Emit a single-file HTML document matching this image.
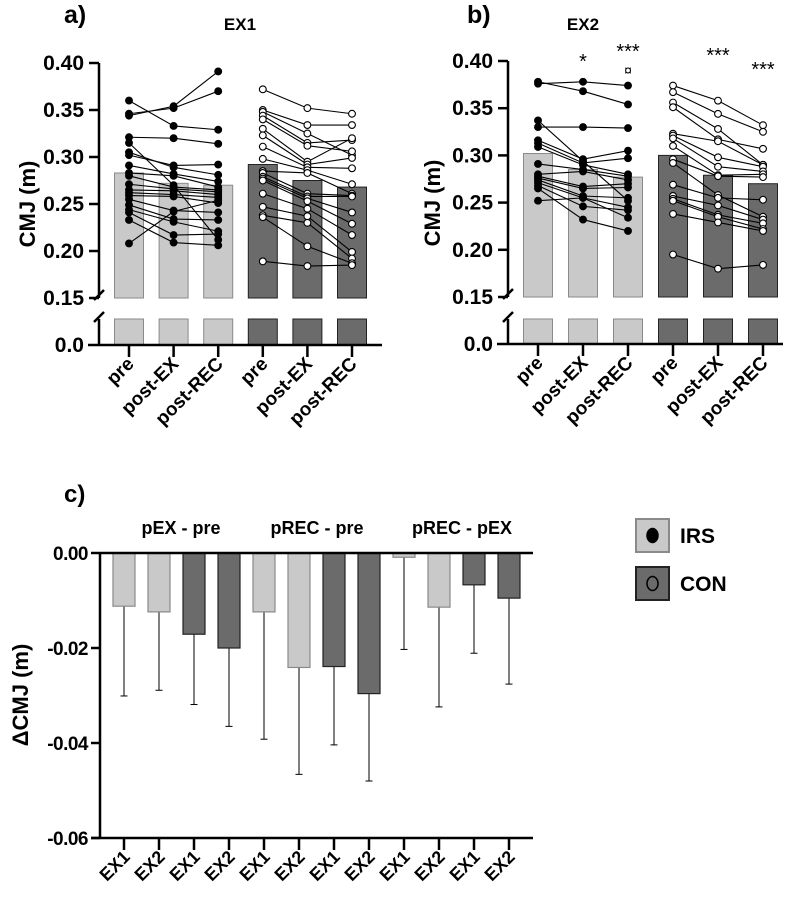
<!DOCTYPE html>
<html><head><meta charset="utf-8"><style>
body{margin:0;background:#fff;}
svg{display:block;font-family:"Liberation Sans",Arial,sans-serif;font-weight:bold;}
</style></head><body>
<svg id="fig" width="800" height="899" viewBox="0 0 800 899"></svg>
<script>
// ---------- data ----------
const timeCats = ["pre","post-EX","post-REC","pre","post-EX","post-REC"];
const meansA = [0.283,0.272,0.270,0.292,0.275,0.268];
const meansB = [0.302,0.285,0.277,0.300,0.279,0.270];
const irsEx1Pre  = [0.344,0.346,0.360,0.321,0.315,0.305,0.302,0.291,0.283,0.280,0.271,0.265,0.262,0.259,0.255,0.249,0.244,0.241,0.233,0.208];
const irsEx1PEx  = [0.354,0.352,0.333,0.320,0.270,0.289,0.291,0.282,0.280,0.268,0.266,0.264,0.260,0.258,0.243,0.234,0.231,0.217,0.209,0.242];
const irsEx1PRec = [0.391,0.370,0.329,0.314,0.212,0.281,0.292,0.274,0.268,0.265,0.263,0.260,0.257,0.251,0.241,0.233,0.221,0.218,0.206,0.254];
const conEx1Pre  = [0.372,0.350,0.348,0.344,0.340,0.330,0.323,0.311,0.298,0.285,0.283,0.279,0.277,0.275,0.261,0.247,0.238,0.236,0.189];
const conEx1PEx  = [0.352,0.334,0.325,0.315,0.312,0.295,0.292,0.289,0.286,0.283,0.261,0.258,0.256,0.253,0.245,0.237,0.230,0.205,0.184];
const conEx1PRec = [0.346,0.334,0.302,0.318,0.306,0.320,0.299,0.288,0.271,0.261,0.259,0.258,0.241,0.229,0.217,0.199,0.192,0.187,0.185];
const irsEx2Pre  = [0.378,0.376,0.337,0.330,0.316,0.313,0.309,0.291,0.280,0.278,0.276,0.274,0.271,0.268,0.265,0.252];
const irsEx2PEx  = [0.368,0.378,0.294,0.330,0.296,0.292,0.290,0.285,0.283,0.267,0.265,0.257,0.255,0.246,0.232,0.255];
const irsEx2PRec = [0.354,0.374,0.252,0.329,0.305,0.297,0.280,0.278,0.274,0.270,0.266,0.255,0.245,0.242,0.220,0.234];
const conEx2Pre  = [0.374,0.367,0.356,0.351,0.323,0.321,0.318,0.310,0.296,0.292,0.269,0.257,0.254,0.252,0.238,0.195];
const conEx2PEx  = [0.358,0.344,0.328,0.317,0.315,0.298,0.288,0.279,0.278,0.258,0.255,0.247,0.237,0.235,0.229,0.180];
const conEx2PRec = [0.332,0.325,0.290,0.307,0.290,0.288,0.283,0.280,0.277,0.235,0.253,0.232,0.228,0.222,0.220,0.184];
const ticksTop = [0.40,0.35,0.30,0.25,0.20,0.15];
const tickLabelsTop = ["0.40","0.35","0.30","0.25","0.20","0.15"];
// panel c
const deltaCats = ["EX1","EX2","EX1","EX2","EX1","EX2","EX1","EX2","EX1","EX2","EX1","EX2"];
const deltaGroups = ["pEX - pre","pREC - pre","pREC - pEX"];
const deltaIsIRS = [1,1,0,0,1,1,0,0,1,1,0,0];
const deltaMeans = [-0.0112,-0.0124,-0.0171,-0.0200,-0.0124,-0.0241,-0.0239,-0.0296,-0.0009,-0.0114,-0.0067,-0.0095];
const deltaErrLow = [-0.0301,-0.0289,-0.0319,-0.0365,-0.0392,-0.0466,-0.0404,-0.0480,-0.0203,-0.0324,-0.0211,-0.0276];
const ticksC = [0,-0.02,-0.04,-0.06];
const tickLabelsC = ["0.00","-0.02","-0.04","-0.06"];

const NS="http://www.w3.org/2000/svg";
const svg=document.getElementById('fig');
function mk(tag,attrs,parent,text){const e=document.createElementNS(NS,tag);for(const k in attrs)e.setAttribute(k,attrs[k]);if(text!==undefined)e.textContent=text;(parent||svg).appendChild(e);return e;}
const LIGHT="#c9c9c9",LIGHTS="#8a8a8a",DARK="#6b6b6b",DARKS="#222";

function panel(o){
  const g=mk('g',{});
  
  
  const y=v=>o.y15-(v-0.15)*o.k;
  const yZero=o.yZero, brk=o.yBreak;
  o.means.forEach((m,i)=>{
    const cx=o.x0+i*o.dx, light=i<3;
    const r=mk('rect',{x:cx-o.bw/2,y:y(m),width:o.bw,height:o.y15-y(m),fill:light?LIGHT:DARK,stroke:light?LIGHTS:DARKS,'stroke-width':1},g);
    
    
    const r2=mk('rect',{x:cx-o.bw/2,y:brk,width:o.bw,height:yZero-brk,fill:light?LIGHT:DARK,stroke:light?LIGHTS:DARKS,'stroke-width':1},g);
    
    
  });
  [[o.irs,0,true],[o.con,3,false]].forEach(([s,off,filled])=>{
    s[0].forEach((_,j)=>{
      const pts=[0,1,2].map(t=>[o.x0+(off+t)*o.dx,y(s[t][j])]);
      const pl=mk('polyline',{points:pts.map(p=>p.join(',')).join(' '),fill:'none',stroke:'#000','stroke-width':1.1},g);
      
      
      pts.forEach(p=>{const c=mk('circle',{cx:p[0],cy:p[1],r:3.4,fill:filled?'#000':'#fff',stroke:'#000','stroke-width':1.1},g);
        
        });
    });
  });
  mk('line',{x1:o.ax,y1:y(0.40),x2:o.ax,y2:o.y15,stroke:'#000','stroke-width':2.5},g);
  mk('line',{x1:o.ax,y1:brk,x2:o.ax,y2:yZero+1,stroke:'#000','stroke-width':2.5},g);
  mk('line',{x1:o.ax-5,y1:o.y15+2,x2:o.ax+5,y2:o.y15-8,stroke:'#000','stroke-width':2.5},g);
  mk('line',{x1:o.ax-5,y1:brk+3,x2:o.ax+5,y2:brk-7,stroke:'#000','stroke-width':2.5},g);
  mk('line',{x1:o.ax-11,y1:yZero,x2:o.xEnd,y2:yZero,stroke:'#000','stroke-width':2.5},g);
  ticksTop.forEach((t,i)=>{
    mk('line',{x1:o.ax-10,y1:y(t),x2:o.ax,y2:y(t),stroke:'#000','stroke-width':2.5},g);
    const tl=mk('text',{x:o.ax-15,y:y(t)+7,'text-anchor':'end','font-size':21},g,tickLabelsTop[i]);
    
    
  });
  const zl=mk('text',{x:o.ax-15,y:yZero+7,'text-anchor':'end','font-size':21},g,"0.0");
  
  
  o.cats.forEach((c,i)=>{
    const cx=o.x0+i*o.dx;
    mk('line',{x1:cx,y1:yZero,x2:cx,y2:yZero+12,stroke:'#000','stroke-width':2.5},g);
    const t=mk('text',{x:cx+6,y:yZero+20,'text-anchor':'end','font-size':19,transform:`rotate(-45 ${cx+6} ${yZero+20})`},g,c);
    
    
  });
  const yt=mk('text',{x:0,y:0,'text-anchor':'middle','font-size':22,transform:`translate(${o.ylx},${o.yly}) rotate(-90)`},g,"CMJ (m)");
  
  
  const pl=mk('text',{x:o.lx,y:23,'font-size':25},g,o.letter);
  
  
  const tt=mk('text',{x:o.tx,y:30,'text-anchor':'middle','font-size':17},g,o.title);
  
  
  return {g,y};
}
panel({name:'panel-a',means:meansA,cats:timeCats,irs:[irsEx1Pre,irsEx1PEx,irsEx1PRec],con:[conEx1Pre,conEx1PEx,conEx1PRec],
  x0:129,dx:44.6,bw:29,y15:298,k:940,yZero:345,yBreak:319,ax:99,xEnd:382,ylx:35,yly:204,lx:64,letter:'a)',tx:240,title:'EX1'});
panel({name:'panel-b',means:meansB,cats:timeCats,irs:[irsEx2Pre,irsEx2PEx,irsEx2PRec],con:[conEx2Pre,conEx2PEx,conEx2PRec],
  x0:538,dx:45,bw:29,y15:297,k:944,yZero:344,yBreak:319,ax:508,xEnd:783,ylx:440,yly:203,lx:467,letter:'b)',tx:583,title:'EX2'});
[[583,68,"*"],[628,58,"***"],[718,62,"***"],[763,76,"***"]].forEach(a=>{
  const t=mk('text',{x:a[0],y:a[1],'text-anchor':'middle','font-size':20,'font-weight':'normal'},undefined,a[2]);
  
  
});
const cur=mk('text',{x:628,y:75,'text-anchor':'middle','font-size':14,'font-weight':'normal'},undefined,"¤");



// ---------- panel c ----------
const gc=mk('g',{});


function ycc(v){return 553+(-v)/0.02*95;}
const xc=i=>124+i*35;
deltaMeans.forEach((m,i)=>{
  const irs=deltaIsIRS[i]===1;
  const el=mk('line',{x1:xc(i),y1:ycc(m),x2:xc(i),y2:ycc(deltaErrLow[i]),stroke:'#000','stroke-width':1},gc);
  
  
  mk('line',{x1:xc(i)-3.5,y1:ycc(deltaErrLow[i]),x2:xc(i)+3.5,y2:ycc(deltaErrLow[i]),stroke:'#000','stroke-width':1},gc);
  const r=mk('rect',{x:xc(i)-11,y:553,width:22,height:ycc(m)-553,fill:irs?LIGHT:DARK,stroke:irs?LIGHTS:DARKS,'stroke-width':1.2},gc);
  
  
  mk('line',{x1:xc(i),y1:838,x2:xc(i),y2:850,stroke:'#000','stroke-width':2.5},gc);
  const t=mk('text',{x:xc(i)+7,y:858,'text-anchor':'end','font-size':18,transform:`rotate(-45 ${xc(i)+7} 858)`},gc,deltaCats[i]);
  
  
});
mk('line',{x1:100,y1:553,x2:100,y2:839,stroke:'#000','stroke-width':2.5},gc);
mk('line',{x1:100,y1:553,x2:533,y2:553,stroke:'#000','stroke-width':2.5},gc);
mk('line',{x1:91,y1:838,x2:533,y2:838,stroke:'#000','stroke-width':2.5},gc);
ticksC.forEach((t,i)=>{
  mk('line',{x1:91,y1:ycc(t),x2:100,y2:ycc(t),stroke:'#000','stroke-width':2.5},gc);
  const l=mk('text',{x:88,y:ycc(t)+7,'text-anchor':'end','font-size':19,'letter-spacing':'-0.5'},gc,tickLabelsC[i]);
  
  
});
[181,317,462].forEach((x,i)=>{
  const t=mk('text',{x:x,y:534,'text-anchor':'middle','font-size':18},gc,deltaGroups[i]);
  
  
});
const yt=mk('text',{x:0,y:0,'text-anchor':'middle','font-size':22,transform:'translate(28,695) rotate(-90)'},gc,"ΔCMJ (m)");


const cl=mk('text',{x:64,y:502,'font-size':24},gc,"c)");


[[519,'IRS',LIGHT,LIGHTS,'#000'],[567,'CON',DARK,DARKS,DARK]].forEach(L=>{
  const lg=mk('g',{},gc);
  
  
  mk('rect',{x:636,y:L[0],width:33,height:33,fill:L[2],stroke:L[3],'stroke-width':2},lg);
  mk('ellipse',{cx:652.5,cy:L[0]+16.5,rx:5.5,ry:7,fill:L[4],stroke:'#000','stroke-width':1.5},lg);
  mk('text',{x:680,y:L[0]+24,'font-size':21},lg,L[1]);
});
</script>
</body></html>
